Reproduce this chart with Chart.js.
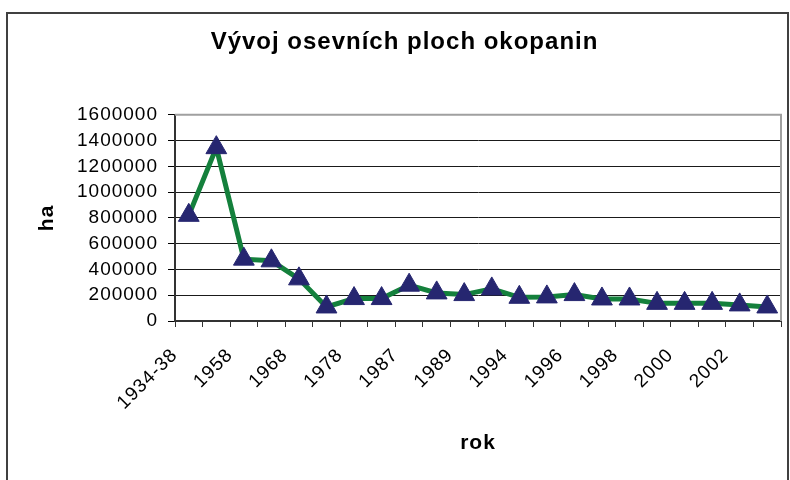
<!DOCTYPE html>
<html>
<head>
<meta charset="utf-8">
<script src="https://cdn.jsdelivr.net/npm/chart.js"></script>
<style>
  body { margin: 0; background: #fff; }
  #wrap { position: relative; width: 790px; height: 480px; overflow: hidden; }
  #ramecek { position: absolute; left: 6px; top: 12px; width: 779px; height: 520px; border: 2px solid #404040; }
  canvas { position: absolute; left: 0; top: 0; }
</style>
</head>
<body>
<div id="wrap">
  <div id="ramecek"></div>
  <!-- platno je o 4px sirsi, prava hrana grafu pak sedi na 782px -->
  <canvas id="okopaniny" width="794" height="480"></canvas>
</div>
<script>
// roky (popisky osy x) - zobrazuje se kazdy druhy
var roky = ['1934-38', '1948', '1958', '1963', '1968', '1973', '1978', '1985', '1987', '1988', '1989',
            '1993', '1994', '1995', '1996', '1997', '1998', '1999', '2000', '2001', '2002', '2003'];

// osevni plocha okopanin v ha
var plocha = [820000, 1345000, 480000, 467000, 327000, 109000, 174000, 174000, 278000, 218000, 205000,
              249000, 184000, 187000, 205000, 171000, 171000, 137000, 137000, 137000, 125000, 109000];

var osaY = { min: 0, max: 1600000, krok: 200000 };

var pismo = 'Liberation Sans, Arial, sans-serif';

// mezery mezi pismeny jako v puvodnim grafu
var mezery = {
  id: 'mezery',
  beforeLayout: function(chart) { chart.ctx.letterSpacing = '1px'; },
  beforeDraw: function(chart) { chart.ctx.letterSpacing = '1px'; }
};

// nadpis je v originale trochu vpravo od stredu
var posunNadpisu = {
  id: 'posunNadpisu',
  afterLayout: function(chart) { chart.titleBlock.left += 10; }
};

// seda horni a prava hrana plochy grafu
var hrana = {
  id: 'hrana',
  beforeDatasetsDraw: function(chart) {
    var c = chart.ctx, a = chart.chartArea;
    c.save();
    c.strokeStyle = '#a0a0a0';
    c.lineWidth = 2;
    c.beginPath();
    c.moveTo(a.left, a.top);
    c.lineTo(a.right, a.top);
    c.lineTo(a.right, a.bottom);
    c.stroke();
    c.restore();
  }
};

var ctx = document.getElementById('okopaniny');
var graf = new Chart(ctx, {
  type: 'line',
  data: {
    labels: roky,
    datasets: [{
      label: 'okopaniny',
      data: plocha,
      borderColor: '#14803c',
      borderWidth: 5,
      tension: 0,
      pointStyle: 'triangle',
      pointRadius: 12,
      pointHoverRadius: 12,
      pointBackgroundColor: '#262670',
      pointBorderColor: '#262670',
      pointBorderWidth: 1,
      clip: false
    }]
  },
  options: {
    responsive: false,
    animation: false,
    layout: { padding: { left: 8, right: 3, top: 0, bottom: 0 } },
    plugins: {
      legend: { display: false },
      tooltip: { enabled: false },
      title: {
        display: true,
        text: 'Vývoj osevních ploch okopanin',
        color: '#000',
        font: { family: pismo, size: 24, weight: 'bold' },
        padding: { top: 28, bottom: 58 }
      }
    },
    scales: {
      x: {
        offset: true,
        grid: { offset: true, drawOnChartArea: false, drawTicks: true, tickLength: 6, color: '#333' },
        border: { color: '#333', width: 2 },
        ticks: {
          autoSkip: false,
          minRotation: 45,
          maxRotation: 45,
          padding: 17,
          labelOffset: -14,
          color: '#000',
          font: { family: pismo, size: 19 },
          callback: function(v, i) { return i % 2 === 0 ? roky[i] : ''; }
        },
        title: {
          display: true,
          text: 'rok',
          color: '#000',
          font: { family: pismo, size: 21, weight: 'bold' },
          padding: { top: 0, bottom: 24 }
        },
        afterFit: function(s) {
          s.height = 159;
          s.paddingLeft = 0;
          s.paddingRight = 0;
        }
      },
      y: {
        min: osaY.min,
        max: osaY.max,
        grid: { color: '#1a1a1a', lineWidth: 1, tickLength: 7, tickColor: '#000' },
        border: { color: '#333', width: 2 },
        ticks: {
          stepSize: osaY.krok,
          autoSkip: false,
          padding: 10,
          color: '#000',
          font: { family: pismo, size: 19 },
          callback: function(v) { return String(v); }
        },
        title: {
          display: true,
          text: 'ha',
          color: '#000',
          font: { family: pismo, size: 21, weight: 'bold' },
          padding: { top: 27, bottom: 0 }
        },
        afterFit: function(s) {
          s.width = 167;
          s.paddingTop = 0;
          s.paddingBottom = 0;
        }
      }
    }
  },
  plugins: [mezery, posunNadpisu, hrana]
});
</script>
</body>
</html>
